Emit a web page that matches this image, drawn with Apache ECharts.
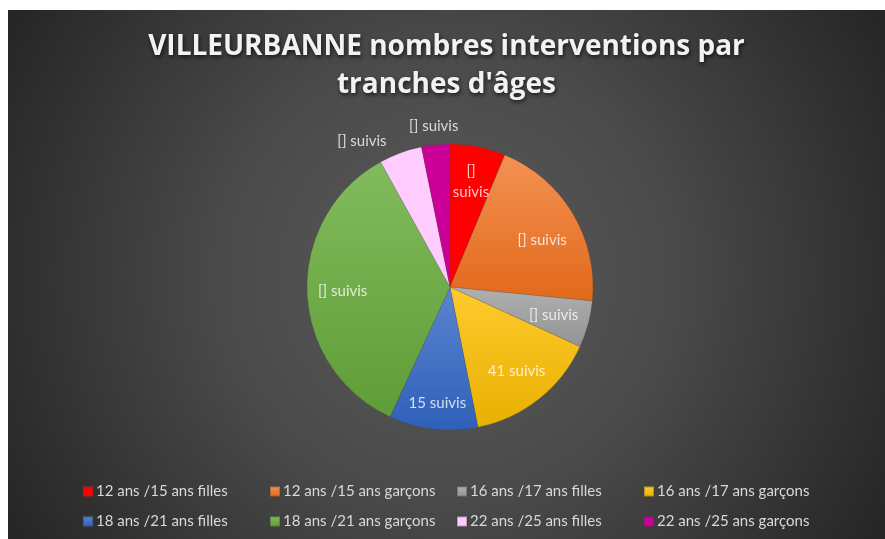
<!DOCTYPE html>
<html>
<head>
<meta charset="utf-8">
<script src="https://cdn.jsdelivr.net/npm/echarts@6/dist/echarts.min.js"></script>
<style>
  html, body { margin: 0; padding: 0; background: #fff; }
  #chart { position: absolute; left: 8px; top: 10px; width: 877px; height: 529px; }
</style>
</head>
<body>
<div id="chart"></div>
<script>
// tranches d'âges (ordre Excel)
const categories = [
  '12 ans /15 ans filles', '12 ans /15 ans garçons',
  '16 ans /17 ans filles', '16 ans /17 ans garçons',
  '18 ans /21 ans filles', '18 ans /21 ans garçons',
  '22 ans /25 ans filles', '22 ans /25 ans garçons'
];
const values = [22.5, 73, 19, 54, 36, 126, 17.5, 11.5];
// étiquettes telles qu'affichées
const labels = ['[]\nsuivis', '[] suivis', '[] suivis', '41 suivis', '15 suivis', '[] suivis', '[] suivis', '[] suivis'];
// les deux dernières étiquettes sont à l'extérieur
const outside = [false, false, false, false, false, false, true, true];

const colors = [
  ['#ff0000', '#ff0000'],
  ['#f39152', '#e2691b'],
  ['#b0b0b0', '#939393'],
  ['#ffca2e', '#e9b000'],
  ['#5a85d0', '#2f60b8'],
  ['#82bb5d', '#5f9d37'],
  ['#ffccff', '#ffccff'],
  ['#cc0099', '#cc0099']
];

const grad = (c) => ({
  type: 'linear', x: 0, y: 0, x2: 0, y2: 1,
  colorStops: [{ offset: 0, color: c[0] }, { offset: 1, color: c[1] }]
});

const font = 'Lato';
const labelColor = 'rgba(255,255,255,0.78)';

const chart = echarts.init(document.getElementById('chart'));

const center = [442, 277];
const R = 143;

const legends = [0, 1, 2, 3].map(i => ({
  orient: 'vertical',
  left: 69 + i * 187,
  top: 469,
  itemGap: 15,
  itemWidth: 10,
  itemHeight: 10,
  icon: 'rect',
  selectedMode: false,
  textStyle: { color: '#d9d9d9', fontSize: 15, fontFamily: font, padding: [0, 0, 0, -2] },
  data: [categories[i], categories[i + 4]]
}));

const option = {
  animation: false,
  backgroundColor: {
    type: 'radial', x: 0.5, y: 0.5, r: 0.95,
    colorStops: [
      { offset: 0, color: '#5b5b5b' },
      { offset: 0.45, color: '#4a4a4a' },
      { offset: 1, color: '#262626' }
    ]
  },
  title: {
    text: "VILLEURBANNE nombres interventions par\ntranches d'âges",
    left: 'center',
    top: 13,
    textStyle: {
      color: '#f2f2f2',
      fontFamily: 'Open Sans',
      fontWeight: 'bold',
      fontSize: 28,
      lineHeight: 38,
      textShadowColor: 'rgba(0,0,0,0.7)',
      textShadowBlur: 4,
      textShadowOffsetX: 1,
      textShadowOffsetY: 2
    }
  },
  legend: legends,
  series: [
    {
      name: 'main',
      type: 'pie',
      center: center,
      radius: R,
      startAngle: 90,
      avoidLabelOverlap: false,
      label: { show: false },
      labelLine: { show: false },
      emphasis: { disabled: true },
      itemStyle: { borderColor: 'rgba(60,60,60,0.35)', borderWidth: 0.5 },
      data: categories.map((n, i) => ({
        name: n, value: values[i], itemStyle: { color: grad(colors[i]) }
      }))
    },
    {
      name: 'inner-labels',
      type: 'pie',
      center: center,
      radius: [R * 0.46, R],
      startAngle: 90,
      silent: true,
      avoidLabelOverlap: false,
      emphasis: { disabled: true },
      itemStyle: { color: 'transparent' },
      labelLine: { show: false },
      label: {
        position: 'inside',
        color: labelColor,
        fontFamily: font,
        fontSize: 15,
        lineHeight: 21,
        formatter: (p) => labels[p.dataIndex]
      },
      labelLayout: (p) => (p.dataIndex === 4 ? { dy: 10 } : p.dataIndex === 1 ? { dy: 8 } : {}),
      data: categories.map((n, i) => ({
        name: n, value: values[i], label: { show: !outside[i] }
      }))
    },
    {
      name: 'outer-labels',
      type: 'pie',
      center: center,
      radius: [R, R * 1.22],
      startAngle: 90,
      silent: true,
      avoidLabelOverlap: false,
      emphasis: { disabled: true },
      itemStyle: { color: 'transparent' },
      labelLine: { show: false },
      label: {
        position: 'inside',
        color: labelColor,
        fontFamily: font,
        fontSize: 15,
        formatter: (p) => labels[p.dataIndex]
      },
      labelLayout: (p) => (p.dataIndex === 6 ? { dx: -32, dy: 6 } : {}),
      data: categories.map((n, i) => ({
        name: n, value: values[i], label: { show: outside[i] }
      }))
    }
  ]
};

chart.setOption(option);
</script>
</body>
</html>
